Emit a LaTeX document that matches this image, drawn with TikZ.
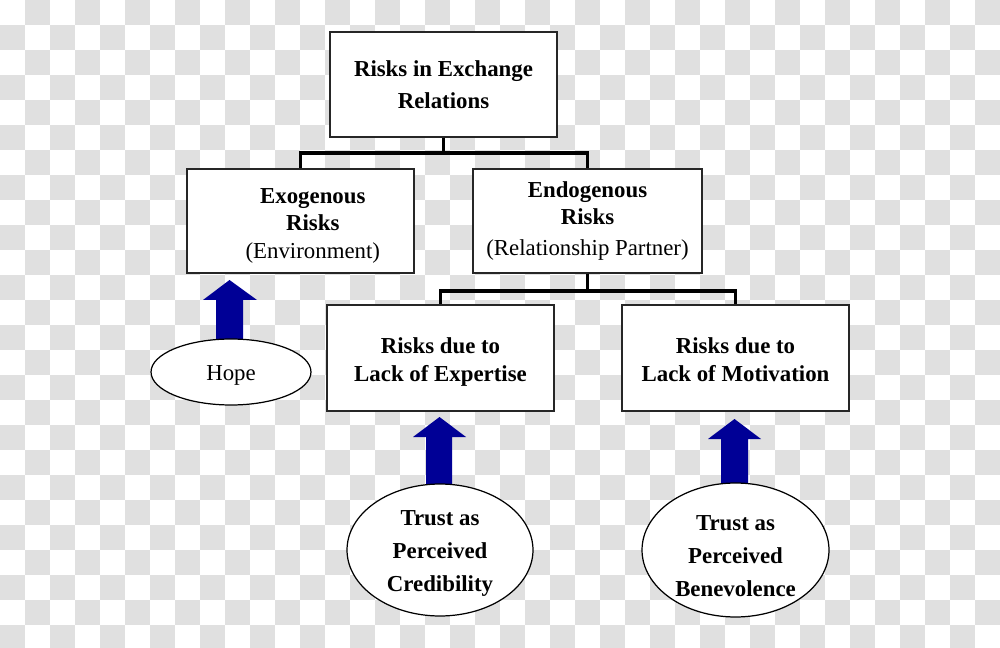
\documentclass[tikz,border=0pt]{standalone}
\usepackage{fontspec}
\setmainfont{Liberation Serif}
\usetikzlibrary{shapes.geometric}
\definecolor{chk}{RGB}{224,224,224}
\definecolor{arrowblue}{RGB}{0,0,150}
\begin{document}
\begin{tikzpicture}[x=0.02cm,y=-0.02cm,
  riskbox/.style={draw=black!85,line width=0.8pt,fill=white,align=center,inner sep=0pt,
    minimum width=4.54cm,minimum height=2.1cm,font=\bfseries\fontsize{13}{15.5}\selectfont},
  trustoval/.style={ellipse,draw=black,line width=0.7pt,fill=white,align=center,inner sep=0pt,
    font=\bfseries\fontsize{13}{18.8}\selectfont},
  tree/.style={line width=2.2pt,black},
  blockarrow/.style={fill=arrowblue}]
\useasboundingbox (0,0) rectangle (1000,648);
% checkerboard background
\foreach \j in {0,...,25}{
  \pgfmathtruncatemacro\off{25*(1-mod(\j,2))}
  \foreach \i in {0,...,19}{
    \fill[chk] (50*\i+\off,25*\j) rectangle ++(25,25);
  }
}
% boxes
\node[riskbox,font=\bfseries\fontsize{13}{18.2}\selectfont] (top) at (443.5,84.5) {Risks in Exchange\\Relations};
\node[riskbox,minimum height=2.08cm] (exo) at (300.5,221) {\rule{0pt}{14pt}\hspace*{14pt}Exogenous\\\hspace*{14pt}Risks\\\hspace*{14pt}{\mdseries (Environment)}};
\node[riskbox,minimum height=2.08cm,minimum width=4.58cm] (endo) at (587.5,221) {Endogenous\\Risks\\[2pt]{\mdseries (Relationship Partner)}};
\node[riskbox,minimum height=2.12cm] (exp) at (440.5,358) {\rule{0pt}{13.5pt}Risks due to\\Lack of Expertise};
\node[riskbox,minimum height=2.12cm] (mot) at (735.5,358) {\rule{0pt}{11pt}Risks due to\\Lack of Motivation};
% tree connectors
\draw[tree] (top.south) -- ++(0,15) -| (exo.north);
\draw[tree] (top.south) -- ++(0,15) -| (endo.north);
\draw[tree] (endo.south) -- ++(0,17) -| (exp.north);
\draw[tree] (endo.south) -- ++(0,17) -| (mot.north);
% block arrows
\fill[blockarrow] (216,345) -- (216,300) -- (203,300) -- (229.5,280) -- (257,300) -- (243,300) -- (243,345) -- cycle;
\fill[blockarrow] (426,490) -- (426,437) -- (413,437) -- (439.5,417) -- (466,437) -- (452,437) -- (452,490) -- cycle;
\fill[blockarrow] (721,490) -- (721,439) -- (708,439) -- (734.5,419) -- (761,439) -- (748,439) -- (748,490) -- cycle;
% ovals
\node[trustoval,font=\fontsize{13}{15}\selectfont,minimum width=3.2cm,minimum height=1.32cm] (hope) at (231,372) {\rule{0pt}{12pt}Hope};
\node[trustoval,minimum width=3.72cm,minimum height=2.64cm] (cred) at (440,550) {\rule{0pt}{12pt}Trust as\\Perceived\\Credibility};
\node[trustoval,minimum width=3.74cm,minimum height=2.68cm] (ben) at (735.5,550) {\rule{0pt}{15.4pt}Trust as\\Perceived\\Benevolence};
\end{tikzpicture}
\end{document}
